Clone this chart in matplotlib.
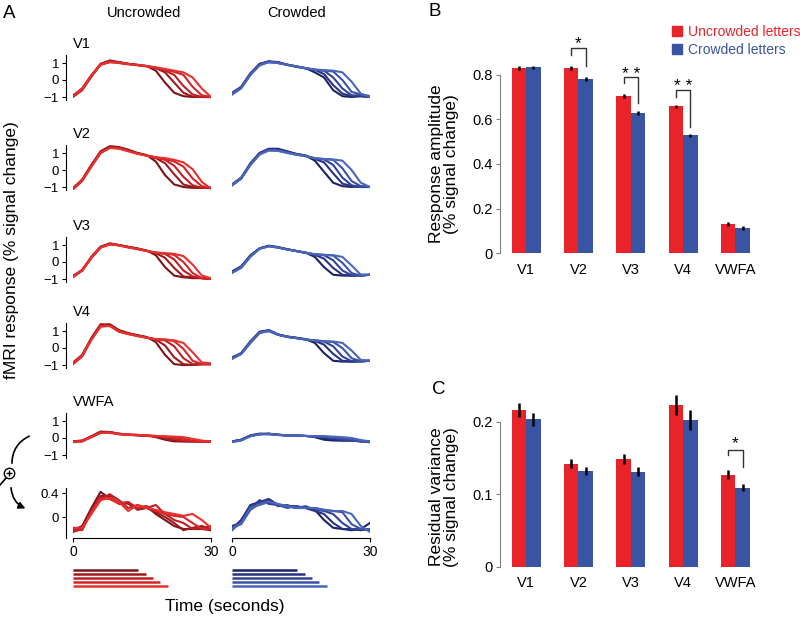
import numpy as np
import matplotlib
matplotlib.use('Agg')
import matplotlib.pyplot as plt
from matplotlib.patches import FancyArrowPatch, Patch
from matplotlib.lines import Line2D

plt.rcParams['font.family'] = ['Liberation Sans', 'DejaVu Sans']

# time courses sampled every 2 s, 5 stimulus durations (short -> long)
t = np.arange(0, 31, 2)
durations = [14.1, 15.8, 17.4, 19.0, 20.6]

v1_unc = [[-0.95, -0.55, 0.25, 0.95, 1.15, 1.05, 0.95, 0.9, 0.82, 0.55, -0.15, -0.75, -0.95, -1.0, -1.0, -1.0],
          [-1.0, -0.6, 0.2, 0.9, 1.1, 1.05, 0.95, 0.88, 0.82, 0.7, 0.45, -0.15, -0.75, -0.98, -1.0, -1.0],
          [-0.95, -0.5, 0.25, 0.95, 1.1, 1.0, 0.95, 0.88, 0.82, 0.72, 0.55, 0.3, -0.35, -0.85, -1.0, -1.0],
          [-0.9, -0.5, 0.3, 0.9, 1.05, 1.0, 0.92, 0.87, 0.8, 0.72, 0.6, 0.48, 0.3, -0.4, -0.9, -1.0],
          [-0.95, -0.55, 0.25, 0.9, 1.05, 1.02, 0.95, 0.88, 0.82, 0.75, 0.65, 0.55, 0.45, 0.15, -0.5, -1.0]]
v1_crw = [[-0.8, -0.45, 0.35, 0.95, 1.1, 1.05, 0.9, 0.8, 0.7, 0.45, 0.15, -0.6, -0.95, -1.0, -0.95, -1.0],
          [-0.75, -0.4, 0.4, 0.95, 1.05, 1.05, 0.9, 0.8, 0.7, 0.6, 0.35, -0.3, -0.8, -0.95, -0.95, -1.0],
          [-0.85, -0.45, 0.3, 0.9, 1.1, 1.0, 0.9, 0.78, 0.68, 0.6, 0.55, 0.15, -0.5, -0.9, -0.9, -0.95],
          [-0.8, -0.4, 0.35, 0.9, 1.05, 1.0, 0.88, 0.78, 0.68, 0.6, 0.55, 0.5, 0.0, -0.7, -0.85, -0.95],
          [-0.85, -0.5, 0.3, 0.85, 1.05, 1.0, 0.9, 0.8, 0.7, 0.62, 0.58, 0.55, 0.45, -0.1, -0.8, -1.0]]

v2_unc = [[-1.1, -0.6, 0.3, 1.1, 1.4, 1.35, 1.2, 1.0, 0.88, 0.5, -0.3, -0.85, -1.0, -1.05, -1.05, -1.05],
          [-1.05, -0.6, 0.25, 1.05, 1.35, 1.3, 1.15, 1.0, 0.85, 0.7, 0.4, -0.25, -0.85, -1.0, -1.05, -1.05],
          [-1.1, -0.55, 0.3, 1.05, 1.3, 1.3, 1.15, 0.98, 0.85, 0.72, 0.6, 0.25, -0.4, -0.9, -1.05, -1.05],
          [-1.1, -0.6, 0.2, 1.0, 1.3, 1.28, 1.12, 0.97, 0.85, 0.75, 0.65, 0.5, 0.2, -0.5, -0.95, -1.05],
          [-1.15, -0.65, 0.2, 1.0, 1.3, 1.25, 1.1, 0.95, 0.85, 0.75, 0.7, 0.6, 0.45, 0.05, -0.7, -1.1]]
v2_crw = [[-0.9, -0.5, 0.35, 1.0, 1.25, 1.25, 1.1, 0.95, 0.85, 0.55, -0.1, -0.75, -0.95, -1.0, -0.95, -1.0],
          [-0.85, -0.45, 0.4, 1.0, 1.2, 1.2, 1.05, 0.93, 0.85, 0.65, 0.45, -0.2, -0.8, -0.95, -1.0, -1.0],
          [-0.9, -0.5, 0.3, 0.95, 1.2, 1.2, 1.05, 0.92, 0.83, 0.68, 0.62, 0.3, -0.45, -0.9, -1.0, -1.0],
          [-0.85, -0.45, 0.35, 0.95, 1.15, 1.15, 1.02, 0.9, 0.82, 0.68, 0.64, 0.6, 0.1, -0.65, -0.95, -1.0],
          [-0.9, -0.5, 0.3, 0.9, 1.15, 1.12, 1.0, 0.9, 0.82, 0.7, 0.65, 0.62, 0.55, 0.0, -0.75, -1.0]]

v3_unc = [[-0.85, -0.5, 0.3, 0.9, 1.1, 1.0, 0.9, 0.8, 0.68, 0.4, -0.3, -0.8, -0.9, -0.95, -0.95, -1.0],
          [-0.8, -0.5, 0.25, 0.85, 1.05, 1.0, 0.88, 0.78, 0.66, 0.52, 0.25, -0.35, -0.85, -0.9, -0.95, -1.0],
          [-0.85, -0.45, 0.3, 0.9, 1.05, 0.98, 0.88, 0.78, 0.65, 0.55, 0.48, 0.15, -0.5, -0.85, -0.95, -1.0],
          [-0.9, -0.5, 0.25, 0.85, 1.05, 0.98, 0.86, 0.76, 0.65, 0.55, 0.5, 0.42, 0.0, -0.65, -0.95, -1.0],
          [-0.85, -0.5, 0.25, 0.85, 1.05, 0.97, 0.86, 0.76, 0.65, 0.56, 0.52, 0.48, 0.35, -0.15, -0.8, -0.95]]
v3_crw = [[-0.6, -0.3, 0.35, 0.8, 0.95, 0.88, 0.75, 0.65, 0.55, 0.3, -0.3, -0.75, -0.8, -0.8, -0.75, -0.75],
          [-0.55, -0.25, 0.4, 0.8, 0.95, 0.85, 0.75, 0.65, 0.55, 0.42, 0.2, -0.35, -0.75, -0.8, -0.8, -0.75],
          [-0.6, -0.3, 0.35, 0.8, 0.95, 0.87, 0.74, 0.64, 0.54, 0.45, 0.4, 0.1, -0.5, -0.78, -0.8, -0.75],
          [-0.6, -0.3, 0.35, 0.78, 0.93, 0.85, 0.74, 0.64, 0.54, 0.45, 0.42, 0.38, -0.05, -0.65, -0.8, -0.75],
          [-0.65, -0.35, 0.3, 0.78, 0.92, 0.85, 0.74, 0.64, 0.54, 0.46, 0.42, 0.4, 0.3, -0.2, -0.75, -0.75]]

v4_unc = [[-0.9, -0.45, 0.55, 1.35, 1.4, 1.05, 0.88, 0.75, 0.65, 0.35, -0.4, -0.95, -1.0, -1.0, -0.95, -0.95],
          [-0.85, -0.4, 0.6, 1.4, 1.35, 1.0, 0.85, 0.75, 0.62, 0.5, 0.15, -0.55, -0.95, -1.0, -0.95, -0.95],
          [-0.9, -0.45, 0.5, 1.3, 1.3, 1.0, 0.85, 0.72, 0.62, 0.5, 0.45, 0.1, -0.6, -0.95, -0.95, -0.95],
          [-0.95, -0.5, 0.5, 1.3, 1.3, 0.98, 0.82, 0.72, 0.6, 0.52, 0.5, 0.4, -0.05, -0.75, -0.95, -0.95],
          [-0.9, -0.45, 0.5, 1.25, 1.3, 0.95, 0.82, 0.7, 0.6, 0.52, 0.5, 0.45, 0.3, -0.25, -0.85, -0.9]]
v4_crw = [[-0.6, -0.35, 0.35, 0.95, 1.05, 0.8, 0.68, 0.6, 0.52, 0.3, -0.3, -0.75, -0.8, -0.8, -0.75, -0.75],
          [-0.55, -0.3, 0.4, 0.95, 1.0, 0.78, 0.66, 0.6, 0.5, 0.42, 0.2, -0.35, -0.75, -0.8, -0.8, -0.75],
          [-0.6, -0.35, 0.3, 0.9, 1.05, 0.8, 0.66, 0.58, 0.5, 0.44, 0.38, 0.1, -0.5, -0.78, -0.78, -0.75],
          [-0.6, -0.3, 0.35, 0.9, 1.0, 0.78, 0.65, 0.58, 0.5, 0.44, 0.4, 0.35, 0.0, -0.6, -0.78, -0.75],
          [-0.65, -0.35, 0.3, 0.88, 1.0, 0.78, 0.65, 0.58, 0.5, 0.45, 0.4, 0.38, 0.3, -0.15, -0.7, -0.75]]

vwfa_unc = [[-0.2, -0.15, 0.1, 0.38, 0.35, 0.25, 0.2, 0.18, 0.15, 0.05, -0.1, -0.2, -0.2, -0.2, -0.2, -0.2],
            [-0.2, -0.18, 0.1, 0.35, 0.33, 0.22, 0.2, 0.15, 0.12, 0.1, -0.05, -0.15, -0.2, -0.2, -0.22, -0.2],
            [-0.22, -0.2, 0.05, 0.32, 0.35, 0.25, 0.18, 0.16, 0.15, 0.12, 0.05, -0.05, -0.15, -0.2, -0.2, -0.22],
            [-0.2, -0.15, 0.08, 0.3, 0.32, 0.25, 0.2, 0.18, 0.14, 0.1, 0.08, 0.05, -0.05, -0.15, -0.2, -0.2],
            [-0.25, -0.2, 0.05, 0.3, 0.3, 0.22, 0.2, 0.18, 0.15, 0.12, 0.1, 0.08, 0.05, -0.05, -0.15, -0.22]]
vwfa_crw = [[-0.2, -0.1, 0.15, 0.25, 0.25, 0.2, 0.15, 0.15, 0.12, 0.05, -0.1, -0.15, -0.15, -0.15, -0.18, -0.2],
            [-0.2, -0.12, 0.12, 0.22, 0.25, 0.18, 0.15, 0.14, 0.12, 0.1, 0.0, -0.1, -0.15, -0.15, -0.2, -0.2],
            [-0.22, -0.1, 0.15, 0.25, 0.22, 0.18, 0.15, 0.14, 0.12, 0.1, 0.08, 0.0, -0.1, -0.15, -0.2, -0.25],
            [-0.2, -0.12, 0.12, 0.22, 0.25, 0.2, 0.15, 0.14, 0.12, 0.1, 0.1, 0.05, 0.0, -0.1, -0.18, -0.2],
            [-0.25, -0.15, 0.1, 0.22, 0.22, 0.18, 0.15, 0.14, 0.12, 0.1, 0.1, 0.08, 0.05, 0.0, -0.12, -0.2]]

# VWFA magnified
zoom_unc = [[-0.22, -0.15, 0.15, 0.42, 0.3, 0.25, 0.22, 0.15, 0.18, 0.05, -0.05, -0.15, -0.2, -0.2, -0.2, -0.22],
            [-0.2, -0.18, 0.1, 0.35, 0.35, 0.22, 0.25, 0.12, 0.15, 0.08, 0.0, -0.1, -0.22, -0.18, -0.15, -0.2],
            [-0.25, -0.2, 0.08, 0.3, 0.38, 0.28, 0.15, 0.2, 0.15, 0.2, 0.05, -0.05, -0.1, -0.2, -0.18, -0.15],
            [-0.2, -0.22, 0.1, 0.32, 0.3, 0.22, 0.25, 0.15, 0.18, 0.1, 0.05, 0.02, 0.0, -0.1, -0.2, -0.2],
            [-0.18, -0.18, 0.05, 0.28, 0.32, 0.25, 0.1, 0.2, 0.15, 0.12, 0.08, 0.05, 0.02, 0.05, -0.05, -0.18]]
zoom_crw = [[-0.2, -0.05, 0.2, 0.25, 0.3, 0.2, 0.18, 0.18, 0.15, 0.12, -0.05, -0.18, -0.2, -0.22, -0.2, -0.1],
            [-0.15, -0.1, 0.15, 0.28, 0.22, 0.2, 0.18, 0.15, 0.15, 0.1, 0.05, -0.1, -0.2, -0.2, -0.22, -0.2],
            [-0.22, -0.08, 0.18, 0.25, 0.28, 0.18, 0.2, 0.15, 0.18, 0.12, 0.1, 0.05, -0.1, -0.2, -0.2, -0.22],
            [-0.18, -0.12, 0.12, 0.22, 0.25, 0.2, 0.15, 0.18, 0.15, 0.15, 0.12, 0.1, 0.08, -0.12, -0.2, -0.2],
            [-0.2, -0.1, 0.15, 0.2, 0.25, 0.22, 0.18, 0.15, 0.15, 0.15, 0.12, 0.1, 0.1, 0.05, -0.15, -0.25]]

# panel B / C
rois = ['V1', 'V2', 'V3', 'V4', 'VWFA']
amp_unc = [0.830, 0.829, 0.706, 0.657, 0.131]
amp_crw = [0.832, 0.778, 0.627, 0.528, 0.112]
amp_unc_err = [0.009, 0.010, 0.009, 0.008, 0.007]
amp_crw_err = [0.008, 0.009, 0.008, 0.007, 0.008]
res_unc = [0.216, 0.142, 0.148, 0.223, 0.127]
res_crw = [0.203, 0.132, 0.131, 0.202, 0.109]
res_unc_err = [0.010, 0.006, 0.007, 0.014, 0.006]
res_crw_err = [0.009, 0.005, 0.006, 0.014, 0.005]

RED = '#e8242a'
BLUE = '#3a54a4'
reds = ['#7a1417', '#9c1a1e', '#bb2024', '#d52428', '#e8302e']
blues = ['#1b2266', '#27337e', '#324395', '#3c52a8', '#4a66b8']

W, H = 800, 617


def box(x0, y0, x1, y1):
    # pixel box (top-left origin) -> figure rect
    return [x0 / W, 1 - y1 / H, (x1 - x0) / W, (y1 - y0) / H]


def fx(x):
    return x / W


def fy(y):
    return 1 - y / H


fig = plt.figure(figsize=(8, 6.17), dpi=100)

# ---------- panel A ----------
rows = [('V1', v1_unc, v1_crw, 80), ('V2', v2_unc, v2_crw, 170),
        ('V3', v3_unc, v3_crw, 262), ('V4', v4_unc, v4_crw, 348),
        ('VWFA', vwfa_unc, vwfa_crw, 438)]
for name, unc, crw, z in rows:
    for col, (x0, curves, cols) in enumerate([(73, unc, reds), (232, crw, blues)]):
        ax = fig.add_axes(box(x0, z - 25.5, x0 + 138, z + 20.4))
        for k in range(5):
            ax.plot(t, curves[k], color=cols[k], lw=1.5, solid_joinstyle='round')
        ax.set_xlim(0, 30)
        ax.set_ylim(-1.2, 1.5)
        for s in ['top', 'right', 'bottom']:
            ax.spines[s].set_visible(False)
        ax.set_xticks([])
        ax.patch.set_visible(False)
        if col == 0:
            ax.spines['left'].set_position(('outward', 5))
            ax.set_yticks([-1, 0, 1])
            ax.tick_params(axis='y', labelsize=9.5, length=3, pad=2)
        else:
            ax.spines['left'].set_visible(False)
            ax.set_yticks([])
    fig.text(fx(73), fy(z - 36), name, fontsize=10.5, va='center')

# magnified VWFA
for col, (x0, curves, cols) in enumerate([(73, zoom_unc, reds), (232, zoom_crw, blues)]):
    ax = fig.add_axes(box(x0, 488.2, x0 + 138, 538))
    for k in range(5):
        ax.plot(t, curves[k], color=cols[k], lw=1.5, solid_joinstyle='round')
    ax.set_xlim(0, 30)
    ax.set_ylim(-0.35, 0.48)
    ax.spines['top'].set_visible(False)
    ax.spines['right'].set_visible(False)
    ax.patch.set_visible(False)
    ax.set_xticks([0, 30])
    ax.tick_params(axis='x', labelsize=10, length=3, pad=2)
    if col == 0:
        ax.spines['left'].set_position(('outward', 5))
        ax.set_yticks([0, 0.4])
        ax.set_yticklabels(['0', '0.4'])
        ax.tick_params(axis='y', labelsize=9.5, length=3, pad=2)
    else:
        ax.spines['left'].set_visible(False)
        ax.set_yticks([])

# stimulus duration bars
for x0, cols in [(73, reds), (232, blues)]:
    ax = fig.add_axes(box(x0, 567.6, x0 + 138, 588.4))
    for k in range(5):
        ax.hlines(k, 0, durations[k], color=cols[k], lw=1.8)
    ax.set_xlim(0, 30)
    ax.set_ylim(4.7, -0.7)
    ax.axis('off')

fig.text(fx(3), fy(13), 'A', fontsize=13.5, va='center')
fig.text(fx(144), fy(13), 'Uncrowded', fontsize=10.5, ha='center', va='center')
fig.text(fx(297), fy(13), 'Crowded', fontsize=10.5, ha='center', va='center')
fig.text(fx(12), fy(250), 'fMRI response (% signal change)', fontsize=12.5,
         rotation=90, ha='center', va='center')
fig.text(fx(225), fy(607), 'Time (seconds)', fontsize=12.5, ha='center', va='center')

# magnifier + arrows
fig.add_artist(FancyArrowPatch((fx(31.7), fy(435)), (fx(12), fy(466)), transform=fig.transFigure,
                               connectionstyle='arc3,rad=0.35', arrowstyle='-', lw=1.2, color='black'))
fig.add_artist(FancyArrowPatch((fx(11), fy(485)), (fx(28), fy(509.5)), transform=fig.transFigure,
                               connectionstyle='arc3,rad=0.35', arrowstyle='-|>', mutation_scale=10,
                               lw=1.2, color='black'))
fig.add_artist(Line2D([fx(0), fx(6.5)], [fy(485), fy(477.5)], transform=fig.transFigure,
                      color='black', lw=1.2))
fig.add_artist(Line2D([fx(9.3)], [fy(473.3)], transform=fig.transFigure, marker='o', ms=7.5,
                      mfc='white', mec='black', mew=1.0))
fig.add_artist(Line2D([fx(9.3)], [fy(473.3)], transform=fig.transFigure, marker='+', ms=5,
                      mec='black', mew=1.0))

# ---------- panels B and C ----------
w = 0.277
x = np.arange(len(rois))


def bar_panel(rect, unc, crw, unc_err, crw_err, ylim, ticks, ticklabels):
    ax = fig.add_axes(rect)
    ek = dict(ecolor='black', elinewidth=1.8, capsize=0)
    ax.bar(x - w / 2, unc, w, color=RED, yerr=unc_err, error_kw=ek)
    ax.bar(x + w / 2, crw, w, color=BLUE, yerr=crw_err, error_kw=ek)
    ax.set_xlim(-0.5, 4.5)
    ax.set_ylim(*ylim)
    for s in ['top', 'right', 'bottom']:
        ax.spines[s].set_visible(False)
    ax.spines['left'].set_color('#808080')
    ax.spines['left'].set_bounds(ticks[0], ticks[-1])
    ax.set_yticks(ticks)
    ax.set_yticklabels(ticklabels)
    ax.tick_params(axis='y', labelsize=10.5, length=3, color='#808080', pad=2)
    ax.set_xticks(x)
    ax.set_xticklabels(rois)
    ax.tick_params(axis='x', labelsize=10.5, length=0, pad=7)
    ax.patch.set_visible(False)
    return ax


def bracket(ax, i, top, lb, rb, label, ty):
    xl, xr = i - w / 2, i + w / 2
    ax.plot([xl, xl, xr, xr], [lb, top, top, rb], color='#333333', lw=1)
    ax.text(i, ty, label, ha='center', va='center', fontsize=12.5)


ax_b = bar_panel(box(500, 41, 761.5, 253.3), amp_unc, amp_crw, amp_unc_err, amp_crw_err,
                 (0, 0.95), [0, 0.2, 0.4, 0.6, 0.8], ['0', '0.2', '0.4', '0.6', '0.8'])
bracket(ax_b, 1, 0.918, 0.888, 0.84, '*', 0.94)
bracket(ax_b, 2, 0.789, 0.762, 0.672, '* *', 0.80)
bracket(ax_b, 3, 0.729, 0.70, 0.567, '* *', 0.745)
ax_b.legend(handles=[Patch(color=RED), Patch(color=BLUE)],
            labels=['Uncrowded letters', 'Crowded letters'], labelcolor=[RED, BLUE],
            loc='upper left', bbox_to_anchor=(fx(672), fy(25)), bbox_transform=fig.transFigure,
            frameon=False, fontsize=10, handlelength=0.7, handleheight=0.7,
            handletextpad=0.45, borderpad=0, borderaxespad=0, labelspacing=0.3)

ax_c = bar_panel(box(500, 389, 761.5, 566.7), res_unc, res_crw, res_unc_err, res_crw_err,
                 (0, 0.245), [0, 0.1, 0.2], ['0', '0.1', '0.2'])
bracket(ax_c, 4, 0.161, 0.154, 0.138, '*', 0.169)

fig.text(fx(428), fy(12), 'B', fontsize=13.5, va='center')
fig.text(fx(432), fy(390), 'C', fontsize=13.5, va='center')
fig.text(fx(444), fy(164), 'Response amplitude\n(% signal change)', fontsize=12.5,
         rotation=90, ha='center', va='center', multialignment='center', linespacing=1.05)
fig.text(fx(444), fy(497), 'Residual variance\n(% signal change)', fontsize=12.5,
         rotation=90, ha='center', va='center', multialignment='center', linespacing=1.05)

fig.savefig('out.png', dpi=100)
